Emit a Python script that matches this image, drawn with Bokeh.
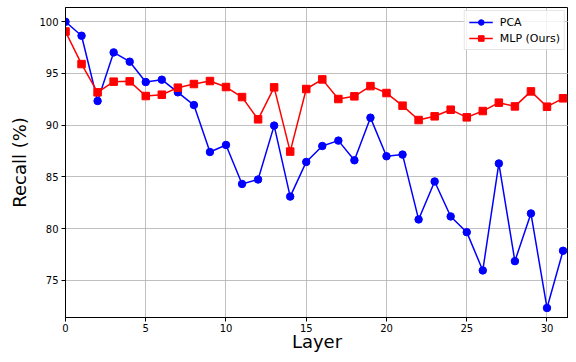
from bokeh.plotting import figure
from bokeh.models import FixedTicker, Range1d
from bokeh.embed import file_html
from bokeh.resources import INLINE

layers = list(range(32))
pca = [100.0, 98.65, 92.34, 97.04, 96.14, 94.17, 94.4, 93.18, 91.95, 87.41,
       88.09, 84.32, 84.75, 89.96, 83.1, 86.45, 87.99, 88.51, 86.61, 90.73,
       87.0, 87.16, 80.89, 84.56, 81.18, 79.66, 75.96, 86.3, 76.86, 81.47,
       72.33, 77.86]
mlp = [99.06, 95.91, 93.18, 94.21, 94.24, 92.82, 92.95, 93.63, 93.98, 94.27,
       93.69, 92.72, 90.57, 93.66, 87.45, 93.5, 94.43, 92.53, 92.79, 93.78,
       93.11, 91.89, 90.5, 90.86, 91.5, 90.76, 91.37, 92.18, 91.82, 93.27,
       91.79, 92.6]
x_ticks = [0, 5, 10, 15, 20, 25, 30]
y_ticks = [75, 80, 85, 90, 95, 100]

FONT = "DejaVu Sans"

p = figure(width=568, height=354, output_backend="svg", toolbar_location=None,
           x_range=Range1d(0, 31.34), y_range=Range1d(71.41, 101.38),
           min_border_left=65, min_border_right=0, min_border_top=7,
           min_border_bottom=0)

p.line(layers, pca, line_color="blue", line_width=1.5, legend_label="PCA")
p.scatter(layers, pca, marker="circle", size=7.5, fill_color="blue",
          line_color="blue", legend_label="PCA")
p.line(layers, mlp, line_color="red", line_width=1.5, legend_label="MLP (Ours)")
p.scatter(layers, mlp, marker="square", size=7.5, fill_color="red",
          line_color="red", legend_label="MLP (Ours)")

p.outline_line_color = "black"
p.outline_line_width = 1

for ax in (p.xaxis, p.yaxis):
    ax.axis_line_color = "black"
    ax.major_tick_line_color = "black"
    ax.major_tick_out = 4
    ax.major_tick_in = 0
    ax.minor_tick_line_color = None
    ax.major_label_text_font = FONT
    ax.major_label_text_font_size = "10px"
    ax.major_label_text_color = "black"
    ax.axis_label_text_font = FONT
    ax.axis_label_text_font_size = "18px"
    ax.axis_label_text_font_style = "normal"
    ax.axis_label_text_color = "black"

p.xaxis.major_label_standoff = 2
p.yaxis.major_label_standoff = 3
p.xaxis.ticker = FixedTicker(ticks=x_ticks)
p.yaxis.ticker = FixedTicker(ticks=y_ticks)
p.xaxis.axis_label = "Layer"
p.yaxis.axis_label = "Recall (%)"
p.xaxis.axis_label_standoff = -4
p.yaxis.axis_label_standoff = 6

p.xgrid.ticker = FixedTicker(ticks=x_ticks)
p.ygrid.ticker = FixedTicker(ticks=y_ticks)
p.grid.grid_line_color = "#b0b0b0"
p.grid.grid_line_width = 1
p.grid.grid_line_alpha = 0.8

lg = p.legend[0]
lg.location = "top_right"
lg.margin = 3
lg.padding = 4
lg.spacing = 2
lg.glyph_width = 24
lg.glyph_height = 14
lg.label_standoff = 7
lg.label_text_font = FONT
lg.label_text_font_size = "11px"
lg.label_text_color = "black"
lg.label_height = 14
lg.border_line_color = "#cccccc"
lg.border_line_width = 1
lg.background_fill_alpha = 0.8

open("out.html", "w").write(file_html(p, INLINE))
